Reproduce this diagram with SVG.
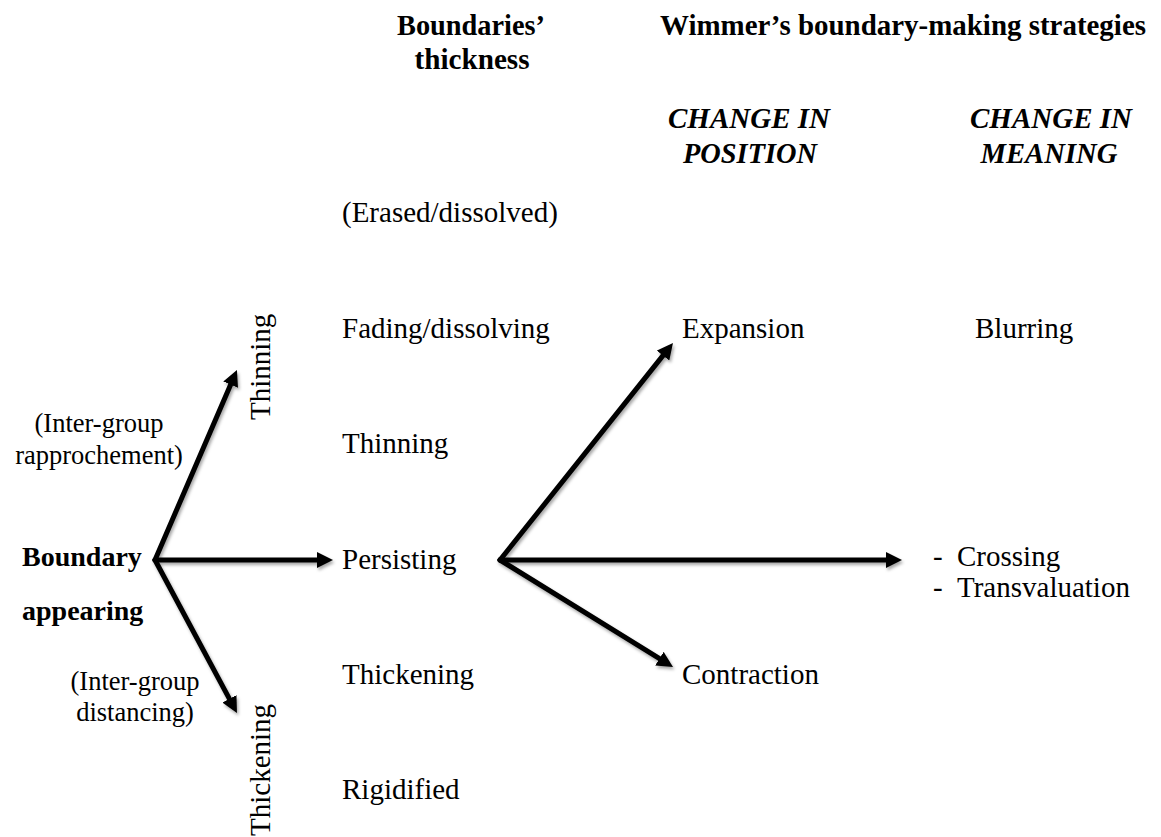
<svg xmlns="http://www.w3.org/2000/svg" width="1161" height="837" viewBox="0 0 1161 837">
<style>
text{font-family:"Liberation Serif","Times New Roman",serif;fill:#000}
.h{font-weight:bold;font-size:30px}
.b{font-weight:bold;font-size:28px}
.bi{font-weight:bold;font-style:italic;font-size:30px;text-anchor:middle}
.t{font-size:29px}
.s{font-size:26.5px;text-anchor:middle}
.c{stroke:#000;stroke-width:5;fill:none;stroke-linecap:round;marker-end:url(#ah)}
</style>
<defs>
<marker id="ah" viewBox="0 0 16 16" refX="4" refY="8" markerWidth="16" markerHeight="16" markerUnits="userSpaceOnUse" orient="auto">
<path d="M0,0 L16,8 L0,16 z" fill="#000"/>
</marker>
<filter id="sh" x="-10%" y="-10%" width="130%" height="130%">
<feDropShadow dx="1.5" dy="2.5" stdDeviation="1.5" flood-color="#000" flood-opacity="0.35"/>
</filter>
</defs>
<g id="headers">
<text class="h" x="397" y="35" textLength="148" lengthAdjust="spacingAndGlyphs">Boundaries’</text>
<text class="h" x="472" y="69" text-anchor="middle" textLength="115" lengthAdjust="spacingAndGlyphs">thickness</text>
<text class="h" x="660" y="35" style="font-size:28.8px" textLength="486" lengthAdjust="spacingAndGlyphs">Wimmer’s boundary-making strategies</text>
<text class="bi" x="749" y="128" textLength="162" lengthAdjust="spacingAndGlyphs">CHANGE IN</text>
<text class="bi" x="750" y="163" textLength="134" lengthAdjust="spacingAndGlyphs">POSITION</text>
<text class="bi" x="1051" y="128" textLength="162" lengthAdjust="spacingAndGlyphs">CHANGE IN</text>
<text class="bi" x="1049" y="163" textLength="137" lengthAdjust="spacingAndGlyphs">MEANING</text>
</g>
<g id="node-origin">
<text class="b" x="22" y="566">Boundary</text>
<text class="b" x="22" y="620">appearing</text>
</g>
<g id="label-rapprochement">
<text class="s" x="99" y="432">(Inter-group</text>
<text class="s" x="99" y="464">rapprochement)</text>
</g>
<g id="label-distancing">
<text class="s" x="135" y="690">(Inter-group</text>
<text class="s" x="135" y="721">distancing)</text>
</g>
<g id="label-thinning-v"><text class="t" transform="translate(270,420) rotate(-90)">Thinning</text></g>
<g id="label-thickening-v"><text class="t" transform="translate(270,836) rotate(-90)">Thickening</text></g>
<g id="node-erased"><text class="t" x="342" y="222">(Erased/dissolved)</text></g>
<g id="node-fading"><text class="t" x="342" y="338">Fading/dissolving</text></g>
<g id="node-thinning"><text class="t" x="342" y="453">Thinning</text></g>
<g id="node-persisting"><text class="t" x="342" y="569">Persisting</text></g>
<g id="node-thickening"><text class="t" x="342" y="684">Thickening</text></g>
<g id="node-rigidified"><text class="t" x="342" y="799">Rigidified</text></g>
<g id="node-expansion"><text class="t" x="682" y="338">Expansion</text></g>
<g id="node-contraction"><text class="t" x="682" y="684">Contraction</text></g>
<g id="node-blurring"><text class="t" x="975" y="338">Blurring</text></g>
<g id="node-crossing">
<text class="t" x="933" y="566">-</text><text class="t" x="957" y="566">Crossing</text>
<text class="t" x="933" y="597">-</text><text class="t" x="957" y="597">Transvaluation</text>
</g>
<g id="connectors" filter="url(#sh)">
<line class="c" x1="155" y1="560" x2="232.2" y2="381"/>
<line class="c" x1="155" y1="560" x2="321" y2="560"/>
<line class="c" x1="155" y1="560" x2="231.3" y2="702.4"/>
<line class="c" x1="500" y1="560" x2="665.5" y2="352.4"/>
<line class="c" x1="500" y1="560" x2="890" y2="560"/>
<line class="c" x1="500" y1="560" x2="662.8" y2="660.7"/>
</g>
</svg>
